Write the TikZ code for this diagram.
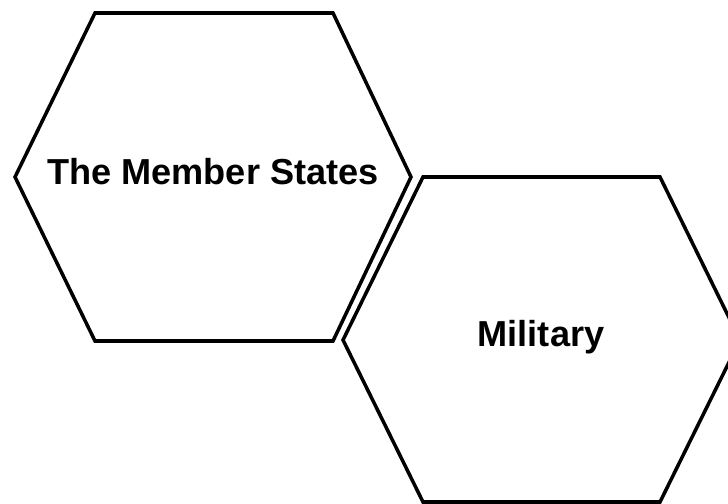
\documentclass[tikz,border=0pt]{standalone}
\usepackage{fontspec}
\setmainfont{Liberation Sans}
\usepackage{tikz}
\usetikzlibrary{positioning}
\tikzset{
  hexline/.style={line width=2.5pt, line join=miter, black},
  hexlabel/.style={font=\fontsize{25.7}{30}\selectfont\bfseries, inner sep=0pt}
}

\begin{document}
\begin{tikzpicture}[x=0.025cm, y=-0.025cm]
      % Frame
      \useasboundingbox (0,0) rectangle (728,504);
      \clip (0,0) rectangle (728,504);

      % Hexagons
      \draw[hexline] (95,13) -- (333,13) -- (411,177) -- (333,341) -- (95,341) -- (15,177) -- cycle;
      \draw[hexline] (423,177) -- (660,177) -- (740,340) -- (660,502) -- (423,502) -- (343,340) -- cycle;

      % Labels
      \node[hexlabel] (states) at (213,172) {The Member States};
      \node[hexlabel] (military) at (541,337) {Military};
    \end{tikzpicture}
\end{document}
